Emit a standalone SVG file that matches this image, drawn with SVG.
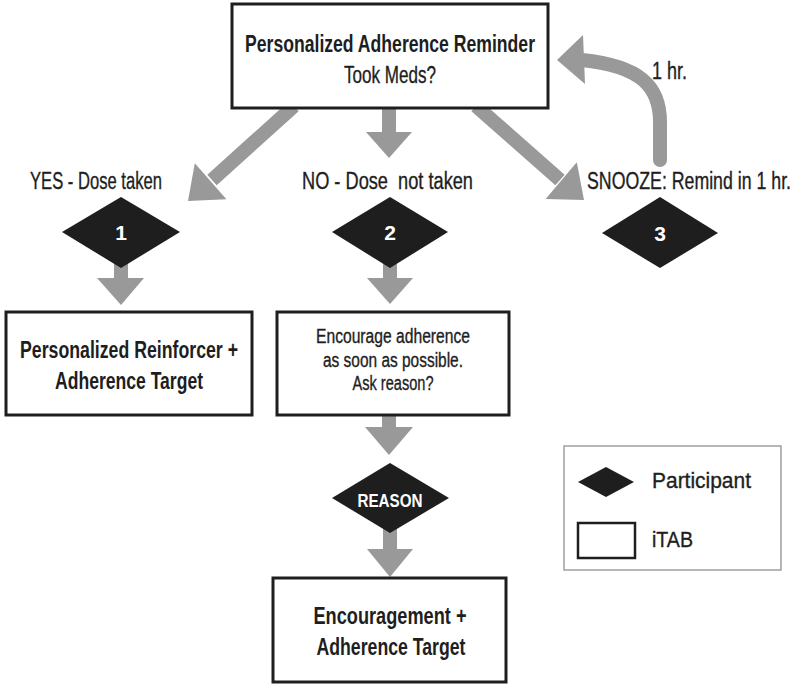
<svg xmlns="http://www.w3.org/2000/svg" width="800" height="689" viewBox="0 0 800 689">
<style>
.box{fill:#fff;stroke:#1e1e1e;stroke-width:3}
.dia{fill:#1e1e1e}
.shaft{stroke:#999;stroke-width:14;fill:none}
.head{fill:#999}
text{font-family:"Liberation Sans Narrow","Liberation Sans",Arial,sans-serif;fill:#1e1e1e}
.r{stroke:#1e1e1e;stroke-width:0.35}
.b{font-weight:bold}
.w{fill:#fff;font-weight:bold}
.lbl{font-size:23px}
</style>
<rect width="800" height="689" fill="#fff"/>
<g id="connectors">
  <line class="shaft" x1="294" y1="106" x2="212" y2="180"/>
  <polygon class="head" points="188,201 226.4,199.2 194.8,163.2"/>
  <line class="shaft" x1="389" y1="106" x2="389" y2="134"/>
  <polygon class="head" points="366,132 412,132 389,158"/>
  <line class="shaft" x1="476" y1="106" x2="560" y2="180"/>
  <polygon class="head" points="584,200 545.6,198.9 576.8,162.3"/>
  <path class="shaft" stroke-linecap="round" d="M660 160 L660 122 C660 86 640 66 582 60"/>
  <polygon class="head" points="557,60 583,35 585,84"/>
  <line class="shaft" x1="121" y1="262" x2="121" y2="280"/>
  <polygon class="head" points="97,278 144,278 121,305"/>
  <line class="shaft" x1="390" y1="262" x2="390" y2="280"/>
  <polygon class="head" points="367,278 413,278 390,304"/>
  <line class="shaft" x1="389" y1="414" x2="389" y2="429"/>
  <polygon class="head" points="365,427 413,427 389,455"/>
  <line class="shaft" x1="390" y1="528" x2="390" y2="551"/>
  <polygon class="head" points="367,549 413,549 390,577"/>
</g>
<g id="reminder">
  <rect class="box" x="232" y="4" width="316" height="104"/>
  <text class="b" x="390" y="52" font-size="24" text-anchor="middle" textLength="290" lengthAdjust="spacingAndGlyphs">Personalized Adherence Reminder</text>
  <text class="r" x="390" y="83" font-size="24" text-anchor="middle" textLength="92" lengthAdjust="spacingAndGlyphs">Took Meds?</text>
</g>
<g id="label-yes"><text class="lbl r" x="30" y="189" textLength="132" lengthAdjust="spacingAndGlyphs">YES - Dose taken</text></g>
<g id="label-no"><text class="lbl r" x="302" y="189" textLength="171" lengthAdjust="spacingAndGlyphs" xml:space="preserve">NO - Dose  not taken</text></g>
<g id="label-snooze"><text class="lbl r" x="791" y="189" text-anchor="end" textLength="204" lengthAdjust="spacingAndGlyphs">SNOOZE: Remind in 1 hr.</text></g>
<g id="label-1hr"><text class="lbl r" x="652" y="79" textLength="35" lengthAdjust="spacingAndGlyphs">1 hr.</text></g>
<g id="d1">
  <polygon class="dia" points="62,232 121,197 180,232 121,268"/>
  <text class="w" x="121" y="240" font-size="21" text-anchor="middle">1</text>
</g>
<g id="d2">
  <polygon class="dia" points="332,232 390,197 448,232 390,268"/>
  <text class="w" x="390" y="240" font-size="21" text-anchor="middle">2</text>
</g>
<g id="d3">
  <polygon class="dia" points="602,233 660,197 718,233 660,268"/>
  <text class="w" x="660" y="241" font-size="21" text-anchor="middle">3</text>
</g>
<g id="reinforcer">
  <rect class="box" x="6" y="312" width="246" height="103"/>
  <text class="b" x="129" y="358" font-size="23" text-anchor="middle" textLength="218" lengthAdjust="spacingAndGlyphs">Personalized Reinforcer +</text>
  <text class="b" x="129" y="389" font-size="23" text-anchor="middle" textLength="148" lengthAdjust="spacingAndGlyphs">Adherence Target</text>
</g>
<g id="encourage">
  <rect class="box" x="277" y="312" width="232" height="103"/>
  <text class="r" x="393" y="343" font-size="20" text-anchor="middle" textLength="154" lengthAdjust="spacingAndGlyphs">Encourage adherence</text>
  <text class="r" x="393" y="367" font-size="20" text-anchor="middle" textLength="140" lengthAdjust="spacingAndGlyphs">as soon as possible.</text>
  <text class="r" x="393" y="390" font-size="20" text-anchor="middle" textLength="81" lengthAdjust="spacingAndGlyphs">Ask reason?</text>
</g>
<g id="reason">
  <polygon class="dia" points="332,498 390,463 449,498 390,533"/>
  <text class="w" x="390" y="507" font-size="19" text-anchor="middle" textLength="65" lengthAdjust="spacingAndGlyphs">REASON</text>
</g>
<g id="encouragement">
  <rect class="box" x="273" y="578" width="233" height="104"/>
  <text class="b" x="390" y="624" font-size="23" text-anchor="middle" textLength="153" lengthAdjust="spacingAndGlyphs">Encouragement +</text>
  <text class="b" x="391" y="655" font-size="23" text-anchor="middle" textLength="149" lengthAdjust="spacingAndGlyphs">Adherence Target</text>
</g>
<g id="legend">
  <rect x="564" y="446" width="217" height="124" fill="#fff" stroke="#888" stroke-width="1.2"/>
  <polygon class="dia" points="578,482 606,467 634,482 606,497"/>
  <text class="r" x="652" y="488" font-size="22" textLength="99" lengthAdjust="spacingAndGlyphs">Participant</text>
  <rect x="578" y="523" width="57" height="35" fill="#fff" stroke="#1e1e1e" stroke-width="2.5"/>
  <text class="r" x="652" y="547" font-size="22" textLength="41" lengthAdjust="spacingAndGlyphs">iTAB</text>
</g>
</svg>
